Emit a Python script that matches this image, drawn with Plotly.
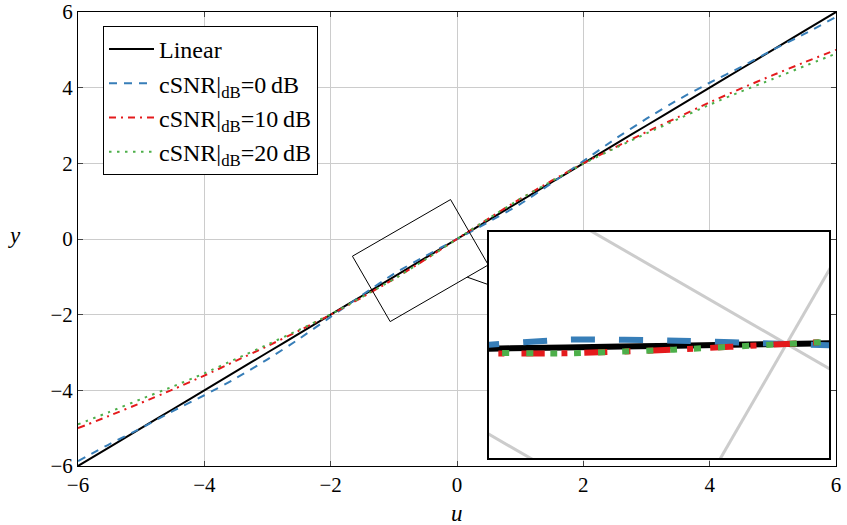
import numpy as np
import plotly.graph_objects as go

# ---------------- data ----------------
u = [-6, -5.5, -5, -4.5, -4, -3.5, -3, -2.5, -2, -1.5, -1, -0.5, 0,
     0.5, 1, 1.5, 2, 2.5, 3, 3.5, 4, 4.5, 5, 5.5, 6]
y_linear = [-6, -5.5, -5, -4.5, -4, -3.5, -3, -2.5, -2, -1.5, -1, -0.5, 0,
            0.5, 1, 1.5, 2, 2.5, 3, 3.5, 4, 4.5, 5, 5.5, 6]
y_0db = [-5.87, -5.42, -5.00, -4.55, -4.13, -3.68, -3.18, -2.64, -2.06, -1.48, -0.92, -0.45, 0.0,
         0.45, 0.92, 1.48, 2.06, 2.64, 3.18, 3.68, 4.13, 4.55, 5.00, 5.42, 5.87]
y_10db = [-5.00, -4.67, -4.33, -3.98, -3.61, -3.22, -2.83, -2.42, -2.00, -1.54, -1.06, -0.54, 0.0,
          0.54, 1.06, 1.54, 2.00, 2.42, 2.83, 3.22, 3.61, 3.98, 4.33, 4.67, 5.00]
y_20db = [-4.90, -4.57, -4.23, -3.90, -3.55, -3.17, -2.79, -2.40, -1.99, -1.53, -1.06, -0.54, 0.0,
          0.54, 1.06, 1.53, 1.99, 2.40, 2.79, 3.17, 3.55, 3.90, 4.23, 4.57, 4.90]

tick_vals = [-6, -4, -2, 0, 2, 4, 6]
names = ["Linear",
         "cSNR|<sub>dB</sub>=0\u2009dB",
         "cSNR|<sub>dB</sub>=10\u2009dB",
         "cSNR|<sub>dB</sub>=20\u2009dB"]

# ---------------- styles / geometry ----------------
FONT = "Liberation Serif"
W_FIG, H_FIG = 847, 525
ML, MR, MT, MB = 78, 11, 12, 59
PW, PH = W_FIG - ML - MR, H_FIG - MT - MB
XR, YR = (-6, 6), (-6, 6)
sx = PW / (XR[1] - XR[0])
sy = PH / (YR[1] - YR[0])

colors = ["black", "#377eb8", "#e41a1c", "#4daf4a"]
dashes = ["solid", "8px,7px", "7px,5px,2px,5px", "2.5px,5.5px"]
dashes_in = ["solid", "24px,24px", "23px,17px,6px,17px", "7px,17px"]
LW = 2.0
MAG = 3.0
LW_IN = LW * MAG
GRID = "#cccccc"

# spy rectangle (main plot) and inset box (pixels)
spy_c = (-0.58, -0.57)
spy_w, spy_h = 113.3, 75.5
ang = np.deg2rad(30.0)
ca, sa = np.cos(ang), np.sin(ang)
box_l, box_t, box_r, box_b = 489, 232, 829, 458
W_in, H_in = box_r - box_l, box_b - box_t


def to_inset(uu, vv):
    px = (np.asarray(uu, float) - spy_c[0]) * sx
    py = (np.asarray(vv, float) - spy_c[1]) * sy
    xr = (px * ca + py * sa) * MAG
    yr = (-px * sa + py * ca) * MAG
    return xr, yr


def scr_to_data(x, y):
    return (x - ML) / sx + XR[0], YR[1] - (y - MT) / sy


def data_to_scr(uu, vv):
    return ML + (uu - XR[0]) * sx, MT + (YR[1] - vv) * sy


fig = go.Figure()

series = [y_linear, y_0db, y_10db, y_20db]
for yv, nm, col, ds in zip(series, names, colors, dashes):
    fig.add_trace(go.Scatter(x=u, y=yv, mode="lines", name=nm,
                             line=dict(color=col, width=LW, dash=ds, shape="spline", smoothing=0.6),
                             hoverinfo="skip"))

# spy rectangle on the main plot
corners = [(-spy_w / 2, -spy_h / 2), (spy_w / 2, -spy_h / 2), (spy_w / 2, spy_h / 2),
           (-spy_w / 2, spy_h / 2), (-spy_w / 2, -spy_h / 2)]
ru, rv = [], []
for lx, ly in corners:
    px = lx * ca - ly * sa
    py = lx * sa + ly * ca
    ru.append(spy_c[0] + px / sx)
    rv.append(spy_c[1] + py / sy)
fig.add_trace(go.Scatter(x=ru, y=rv, mode="lines", line=dict(color="black", width=1),
                         showlegend=False, hoverinfo="skip"))

# connector line between spy rectangle and inset box
cx, cy = data_to_scr(spy_c[0], spy_c[1])
ix, iy = (box_l + box_r) / 2, (box_t + box_b) / 2
dx, dy = ix - cx, iy - cy
lx = dx * ca + (-dy) * sa
ly = -dx * sa + (-dy) * ca
t0 = min((spy_w / 2) / abs(lx), (spy_h / 2) / abs(ly))
t1 = 1 - min((W_in / 2) / abs(dx), (H_in / 2) / abs(dy))
p0 = scr_to_data(cx + t0 * dx, cy + t0 * dy)
p1 = scr_to_data(cx + t1 * dx, cy + t1 * dy)
fig.add_trace(go.Scatter(x=[p0[0], p1[0]], y=[p0[1], p1[1]], mode="lines",
                         line=dict(color="black", width=1), showlegend=False, hoverinfo="skip"))

# ---------------- inset (magnified, rotated view) ----------------
fig.add_trace(go.Scatter(x=[-W_in, W_in, W_in, -W_in, -W_in], y=[-H_in, -H_in, H_in, H_in, -H_in],
                         xaxis="x2", yaxis="y2", mode="lines", fill="toself", fillcolor="white",
                         line=dict(width=0, color="white"), showlegend=False, hoverinfo="skip"))
for k in tick_vals:
    gx, gy = to_inset([k, k], [YR[0], YR[1]])
    fig.add_trace(go.Scatter(x=gx, y=gy, xaxis="x2", yaxis="y2", mode="lines",
                             line=dict(color=GRID, width=MAG), showlegend=False, hoverinfo="skip"))
    gx, gy = to_inset([XR[0], XR[1]], [k, k])
    fig.add_trace(go.Scatter(x=gx, y=gy, xaxis="x2", yaxis="y2", mode="lines",
                             line=dict(color=GRID, width=MAG), showlegend=False, hoverinfo="skip"))
for yv, col, ds in zip(series, colors, dashes_in):
    xi, yi = to_inset(u, yv)
    fig.add_trace(go.Scatter(x=xi, y=yi, xaxis="x2", yaxis="y2", mode="lines",
                             line=dict(color=col, width=LW_IN, dash=ds, shape="spline", smoothing=0.6),
                             showlegend=False, hoverinfo="skip"))

axis_common = dict(range=list(XR), tickvals=tick_vals, showgrid=True, gridcolor=GRID, gridwidth=1,
                   zeroline=False, showline=True, linecolor="black", linewidth=1, mirror="ticks",
                   ticks="inside", ticklen=5, tickcolor="#444444", tickwidth=1, automargin=False,
                   tickfont=dict(family=FONT, size=21, color="black"))

fig.update_layout(
    width=W_FIG, height=H_FIG,
    margin=dict(l=ML, r=MR, t=MT, b=MB, pad=0, autoexpand=False),
    paper_bgcolor="white", plot_bgcolor="white",
    xaxis=dict(axis_common, domain=[0, 1], anchor="y"),
    yaxis=dict(axis_common, range=list(YR), domain=[0, 1], anchor="x"),
    xaxis2=dict(domain=[(box_l - ML) / PW, (box_r - ML) / PW], anchor="y2",
                range=[-W_in / 2, W_in / 2], showgrid=False, zeroline=False,
                showticklabels=False, ticks="", showline=True, mirror=True,
                linecolor="black", linewidth=2, automargin=False),
    yaxis2=dict(domain=[(MT + PH - box_b) / PH, (MT + PH - box_t) / PH], anchor="x2",
                range=[-H_in / 2, H_in / 2], showgrid=False, zeroline=False,
                showticklabels=False, ticks="", showline=True, mirror=True,
                linecolor="black", linewidth=2, automargin=False),
    legend=dict(x=(103 - ML) / PW, y=(MT + PH - 26) / PH, xanchor="left", yanchor="top",
                bgcolor="white", bordercolor="black", borderwidth=1,
                font=dict(family=FONT, size=24, color="black"), itemwidth=45,
                tracegroupgap=0),
    showlegend=True,
    annotations=[
        dict(text="<i>u</i>", x=0.5, y=(MT + PH - 513) / PH, xref="paper", yref="paper",
             showarrow=False, font=dict(family=FONT, size=23, color="black"),
             xanchor="center", yanchor="middle"),
        dict(text="<i>y</i>", x=(15 - ML) / PW, y=(MT + PH - 236) / PH, xref="paper", yref="paper",
             showarrow=False, font=dict(family=FONT, size=23, color="black"),
             xanchor="center", yanchor="middle"),
    ],
)

fig.write_html("out.html")
